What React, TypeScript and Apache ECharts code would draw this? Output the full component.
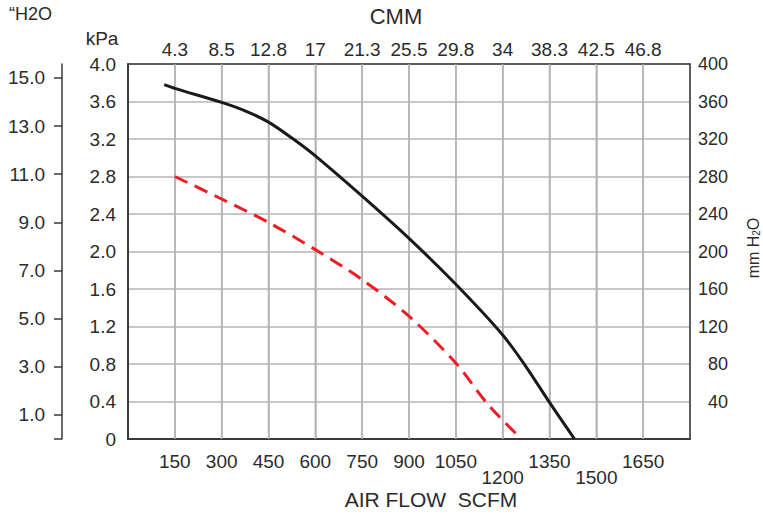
import React, { useEffect, useRef } from 'react';
import * as echarts from 'echarts';

// ---- data ----
const scfmMin = 0;
const scfmMax = 1800;
const scfmStep = 150;
const scfmGridValues = [150, 300, 450, 600, 750, 900, 1050, 1200, 1350, 1500, 1650];
const cmmLabels = ['4.3', '8.5', '12.8', '17', '21.3', '25.5', '29.8', '34', '38.3', '42.5', '46.8'];
const lowScfmLabels = [1200, 1500];
const kPaMax = 4.0;
const kPaStep = 0.4;
const mmH2OMax = 400;
const mmH2OStep = 40;
const inH2OTicks = [1, 3, 5, 7, 9, 11, 13, 15];
const inH2OAxisMax = 15.58;

// curves: [SCFM, kPa]
const solidCurve: [number, number][] = [
  [116, 3.78], [150, 3.74], [300, 3.59], [375, 3.50], [450, 3.38], [525, 3.21], [600, 3.02], [750, 2.59],
  [900, 2.14], [1050, 1.65], [1200, 1.11], [1275, 0.77], [1350, 0.39], [1430, 0],
];
const dashedCurve: [number, number][] = [
  [150, 2.80], [300, 2.56], [450, 2.31], [600, 2.02], [750, 1.70],
  [900, 1.31], [1050, 0.81], [1150, 0.38], [1260, 0],
];

const TXT = '#2b2b2b';
const AX = '#3a3a3a';
const GRID = '#b4b4b4';
const FONT = '"Liberation Sans", Arial, Helvetica, sans-serif';

export default function App() {
  const ref = useRef<HTMLDivElement>(null);
  useEffect(() => {
    if (!ref.current) return;
    const chart = echarts.init(ref.current, null, { renderer: 'svg' });
    const gridSeries = scfmGridValues.map((v) => ({
      type: 'line', xAxisIndex: 0, yAxisIndex: 0,
      data: [[v, 0], [v, kPaMax]],
      symbol: 'none', silent: true, z: 3,
      lineStyle: { color: GRID, width: 1.5 },
      emphasis: { disabled: true },
    }));
    const option: any = {
      animation: false,
      textStyle: { fontFamily: FONT },
      grid: { left: 128, right: 73, top: 64, bottom: 76, containLabel: false },
      xAxis: [
        {
          type: 'value', position: 'bottom', min: scfmMin, max: scfmMax, interval: scfmStep,
          axisLine: { show: true, onZero: false, lineStyle: { color: AX, width: 2 } },
          axisTick: { show: false },
          splitLine: { show: true, lineStyle: { color: '#b3b3b3', width: 1.5 } },
          axisLabel: {
            color: TXT, fontSize: 19, margin: 13, fontFamily: FONT,
            formatter: (v: number) => {
              if (v <= scfmMin || v >= scfmMax) return '';
              if (lowScfmLabels.includes(v)) return `{low|${v}}`;
              return String(v);
            },
            rich: { low: { padding: [16, 0, 0, 0], fontSize: 19, color: TXT, fontFamily: FONT } },
          },
        },
        {
          type: 'value', position: 'top', min: scfmMin, max: scfmMax, interval: scfmStep,
          axisLine: { show: true, onZero: false, lineStyle: { color: AX, width: 1.5 } },
          axisTick: { show: false },
          splitLine: { show: false },
          axisLabel: {
            color: TXT, fontSize: 19, margin: 5, fontFamily: FONT,
            formatter: (v: number) => {
              const i = Math.round(v / scfmStep) - 1;
              return i >= 0 && i < cmmLabels.length ? cmmLabels[i] : '';
            },
          },
        },
      ],
      yAxis: [
        {
          type: 'value', position: 'left', min: 0, max: kPaMax, interval: kPaStep,
          axisLine: { show: true, onZero: false, lineStyle: { color: AX, width: 2 } },
          axisTick: { show: false },
          splitLine: { show: true, lineStyle: { color: GRID, width: 1.5 } },
          axisLabel: {
            color: TXT, fontSize: 19, margin: 12, fontFamily: FONT,
            formatter: (v: number) => (v === 0 ? '0' : v.toFixed(1)),
          },
        },
        {
          type: 'value', position: 'left', offset: 66, min: 0, max: inH2OAxisMax,
          axisLine: { show: true, onZero: false, lineStyle: { color: AX, width: 1.5 } },
          axisTick: { show: true, length: 8, customValues: [0, ...inH2OTicks], lineStyle: { color: AX, width: 1.5 } },
          splitLine: { show: false },
          axisLabel: {
            color: TXT, fontSize: 19, margin: 17, fontFamily: FONT,
            customValues: inH2OTicks,
            formatter: (v: number) => v.toFixed(1),
          },
        },
        {
          type: 'value', position: 'right', min: 0, max: mmH2OMax, interval: mmH2OStep,
          axisLine: { show: true, onZero: false, lineStyle: { color: AX, width: 1.5 } },
          axisTick: { show: false },
          splitLine: { show: false },
          axisLabel: {
            color: TXT, fontSize: 18, margin: 38, align: 'right', fontFamily: FONT,
            formatter: (v: number) => (v === 0 ? '' : String(v)),
          },
        },
      ],
      series: [
        ...gridSeries,
        {
          type: 'line', xAxisIndex: 0, yAxisIndex: 0, data: solidCurve,
          symbol: 'none', smooth: 0.3,
          lineStyle: { color: '#1a1a1a', width: 3 },
          z: 5,
        },
        {
          type: 'line', xAxisIndex: 0, yAxisIndex: 0, data: dashedCurve,
          symbol: 'none', smooth: 0.3,
          lineStyle: { color: '#ee1c25', width: 3, type: [14, 8] },
          z: 5,
        },
      ],
      graphic: [
        { type: 'text', left: 9, top: 5, style: { text: '\u201CH2O', fontSize: 18, fill: TXT, fontFamily: FONT } },
        { type: 'text', x: 102, y: 38, style: { text: 'kPa', fontSize: 19, fill: TXT, fontFamily: FONT, align: 'center', verticalAlign: 'middle' } },
        { type: 'text', x: 396, y: 16, style: { text: 'CMM', fontSize: 22, fill: TXT, fontFamily: FONT, align: 'center', verticalAlign: 'middle' } },
        { type: 'text', x: 431, y: 499, style: { text: 'AIR FLOW  SCFM', fontSize: 21, fill: TXT, fontFamily: FONT, align: 'center', verticalAlign: 'middle' } },
        {
          type: 'text', x: 753, y: 248, rotation: Math.PI / 2,
          style: {
            text: 'mm H{sub|2}O', fontSize: 16, fill: TXT, fontFamily: FONT, align: 'center', verticalAlign: 'middle',
            rich: { sub: { fontSize: 10, fill: TXT, fontFamily: FONT, verticalAlign: 'bottom', padding: [6, 0, 0, 0] } },
          },
        },
      ],
    };
    chart.setOption(option);
    return () => chart.dispose();
  }, []);
  return <div ref={ref} style={{ position: 'absolute', left: 0, top: 0, width: 763, height: 515 }} />;
}
